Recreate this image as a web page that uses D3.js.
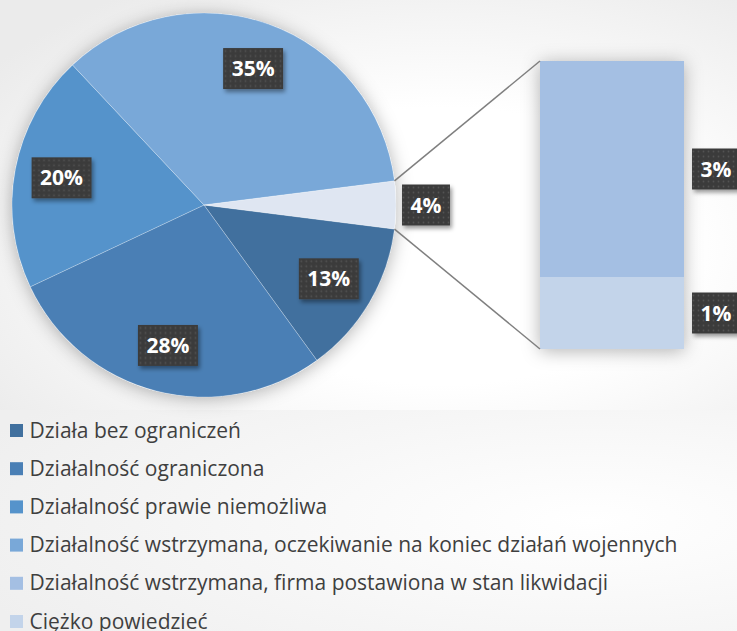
<!DOCTYPE html>
<html><head><meta charset="utf-8">
<script src="https://cdn.jsdelivr.net/npm/d3@7"></script>
<style>
  body { margin: 0; background: #fff; }
  text { font-family: "Open Sans", "Lato", sans-serif; }
</style>
</head><body>
<svg id="chart" width="737" height="631"></svg>
<script>
// pie slices (the last one is "other", shown split in the bar)
const pieCategories = ["Działa bez ograniczeń", "Działalność ograniczona", "Działalność prawie niemożliwa",
  "Działalność wstrzymana, oczekiwanie na koniec działań wojennych"];
const pieValues = [13, 28, 20, 35];
// bar of pie
const barCategories = ["Działalność wstrzymana, firma postawiona w stan likwidacji", "Ciężko powiedzieć"];
const barValues = [3, 1];

const legendCategories = pieCategories.concat(barCategories);
const colors = ["#41709e", "#4a7fb5", "#5593cb", "#79a8d8", "#a4bfe3", "#c3d4ea"];
const otherColor = "#dfe6f2";

const width = 737, height = 631;
const svg = d3.select("#chart");
const defs = svg.append("defs");

// backgrounds
const bg1 = defs.append("radialGradient").attr("id", "bg1")
  .attr("cx", 0.6).attr("cy", 0.6).attr("r", 0.75);
bg1.append("stop").attr("offset", "0%").attr("stop-color", "#ffffff");
bg1.append("stop").attr("offset", "45%").attr("stop-color", "#ffffff");
bg1.append("stop").attr("offset", "100%").attr("stop-color", "#ebebeb");
const bg2 = defs.append("radialGradient").attr("id", "bg2")
  .attr("cx", 0.8).attr("cy", 0.5).attr("r", 0.9);
bg2.append("stop").attr("offset", "0%").attr("stop-color", "#ffffff");
bg2.append("stop").attr("offset", "100%").attr("stop-color", "#efefef");
svg.append("rect").attr("width", width).attr("height", 410).attr("fill", "url(#bg1)");
svg.append("rect").attr("y", 410).attr("width", width).attr("height", height - 410).attr("fill", "url(#bg2)");

// soft shadow for pie and bar
const glow = defs.append("filter").attr("id", "glow")
  .attr("x", "-25%").attr("y", "-25%").attr("width", "150%").attr("height", "150%");
glow.append("feDropShadow").attr("dx", 0).attr("dy", 2).attr("stdDeviation", 9)
  .attr("flood-color", "#000").attr("flood-opacity", 0.3);

// label box shadow
const lshadow = defs.append("filter").attr("id", "lshadow")
  .attr("x", "-20%").attr("y", "-20%").attr("width", "150%").attr("height", "150%");
lshadow.append("feDropShadow").attr("dx", 2).attr("dy", 3).attr("stdDeviation", 2)
  .attr("flood-color", "#000").attr("flood-opacity", 0.4);

// dotted pattern of label boxes
const pat = defs.append("pattern").attr("id", "dots").attr("patternUnits", "userSpaceOnUse")
  .attr("width", 5).attr("height", 5);
pat.append("rect").attr("width", 5).attr("height", 5).attr("fill", "#3b3b3b");
pat.append("circle").attr("cx", 2.5).attr("cy", 2.5).attr("r", 0.9).attr("fill", "#525252");

// pie
const cx = 204, cy = 205, radius = 192;
const otherValue = d3.sum(barValues);
const total = d3.sum(pieValues) + otherValue;
const pieData = pieValues.map((v, i) => ({ name: pieCategories[i], value: v, color: colors[i] }))
  .concat([{ name: "other", value: otherValue, color: otherColor }]);

const startAngle = Math.PI / 2 + Math.PI * otherValue / total;
const pie = d3.pie().sort(null).value(d => d.value)
  .startAngle(startAngle).endAngle(startAngle + 2 * Math.PI);
const arcs = pie(pieData);
const arc = d3.arc().innerRadius(0).outerRadius(radius);
const labelArc = d3.arc().innerRadius(145).outerRadius(145);
const outerLabelArc = d3.arc().innerRadius(222).outerRadius(222);

const g = svg.append("g").attr("transform", `translate(${cx},${cy})`);
g.append("circle").attr("r", radius).attr("fill", "#fff").attr("filter", "url(#glow)");
g.selectAll("path.slice").data(arcs).join("path")
  .attr("class", "slice")
  .attr("d", arc)
  .attr("fill", d => d.data.color)
  .attr("stroke", "#ffffff").attr("stroke-opacity", 0.35).attr("stroke-width", 0.7);

// bar of pie
const barX = 540, barW = 144;
const y = d3.scaleLinear().domain([0, otherValue]).range([349, 61]);
const stacked = [];
let acc = 0;
// bottom segment is the last category
for (let i = barValues.length - 1; i >= 0; i--) {
  stacked.push({ name: barCategories[i], value: barValues[i], y0: acc, y1: acc + barValues[i],
    color: colors[pieCategories.length + i] });
  acc += barValues[i];
}
svg.append("rect").attr("x", barX).attr("y", y(otherValue)).attr("width", barW)
  .attr("height", y(0) - y(otherValue)).attr("fill", "#fff").attr("filter", "url(#glow)");
svg.selectAll("rect.bar").data(stacked).join("rect")
  .attr("class", "bar")
  .attr("x", barX).attr("width", barW)
  .attr("y", d => y(d.y1)).attr("height", d => y(d.y0) - y(d.y1))
  .attr("fill", d => d.color);

// connector lines
const otherArc = arcs[arcs.length - 1];
const edge = a => [cx + radius * Math.sin(a), cy - radius * Math.cos(a)];
const p1 = edge(otherArc.startAngle), p2 = edge(otherArc.endAngle);
svg.append("line").attr("x1", p1[0]).attr("y1", p1[1]).attr("x2", barX).attr("y2", y(otherValue))
  .attr("stroke", "#7f7f7f").attr("stroke-width", 1.5);
svg.append("line").attr("x1", p2[0]).attr("y1", p2[1]).attr("x2", barX).attr("y2", y(0))
  .attr("stroke", "#7f7f7f").attr("stroke-width", 1.5);

// data labels
function label(x, yy, txt) {
  const lg = svg.append("g").attr("transform", `translate(${x},${yy})`);
  const rect = lg.append("rect").attr("fill", "url(#dots)").attr("filter", "url(#lshadow)");
  const t = lg.append("text").attr("text-anchor", "middle").attr("dy", "0.36em")
    .style("font-family", "'Open Sans', sans-serif").style("font-weight", "bold")
    .style("font-size", "21px").attr("fill", "#fff").text(txt);
  const w = t.node().getComputedTextLength() + 17;
  rect.attr("x", -w / 2).attr("y", -20.5).attr("width", w).attr("height", 41);
}
const fmt = v => Math.round(v / total * 100) + "%";
arcs.forEach((d, i) => {
  const c = (i === arcs.length - 1 ? outerLabelArc : labelArc).centroid(d);
  label(cx + c[0], cy + c[1], fmt(d.value));
});
stacked.forEach(d => {
  label(716, (y(d.y0) + y(d.y1)) / 2, fmt(d.value));
});

// legend
const legendY = d3.scalePoint().domain(legendCategories).range([430, 621]);
const leg = svg.selectAll("g.leg").data(legendCategories).join("g")
  .attr("class", "leg")
  .attr("transform", d => `translate(0,${legendY(d)})`);
leg.append("rect").attr("x", 10).attr("y", -6).attr("width", 13).attr("height", 13)
  .attr("fill", (d, i) => colors[i]);
leg.append("text")
  .attr("x", 29.5).attr("y", 7.5)
  .attr("fill", "#3f3f3f").style("font-size", "21px")
  .text(d => d);
</script>
</body></html>
